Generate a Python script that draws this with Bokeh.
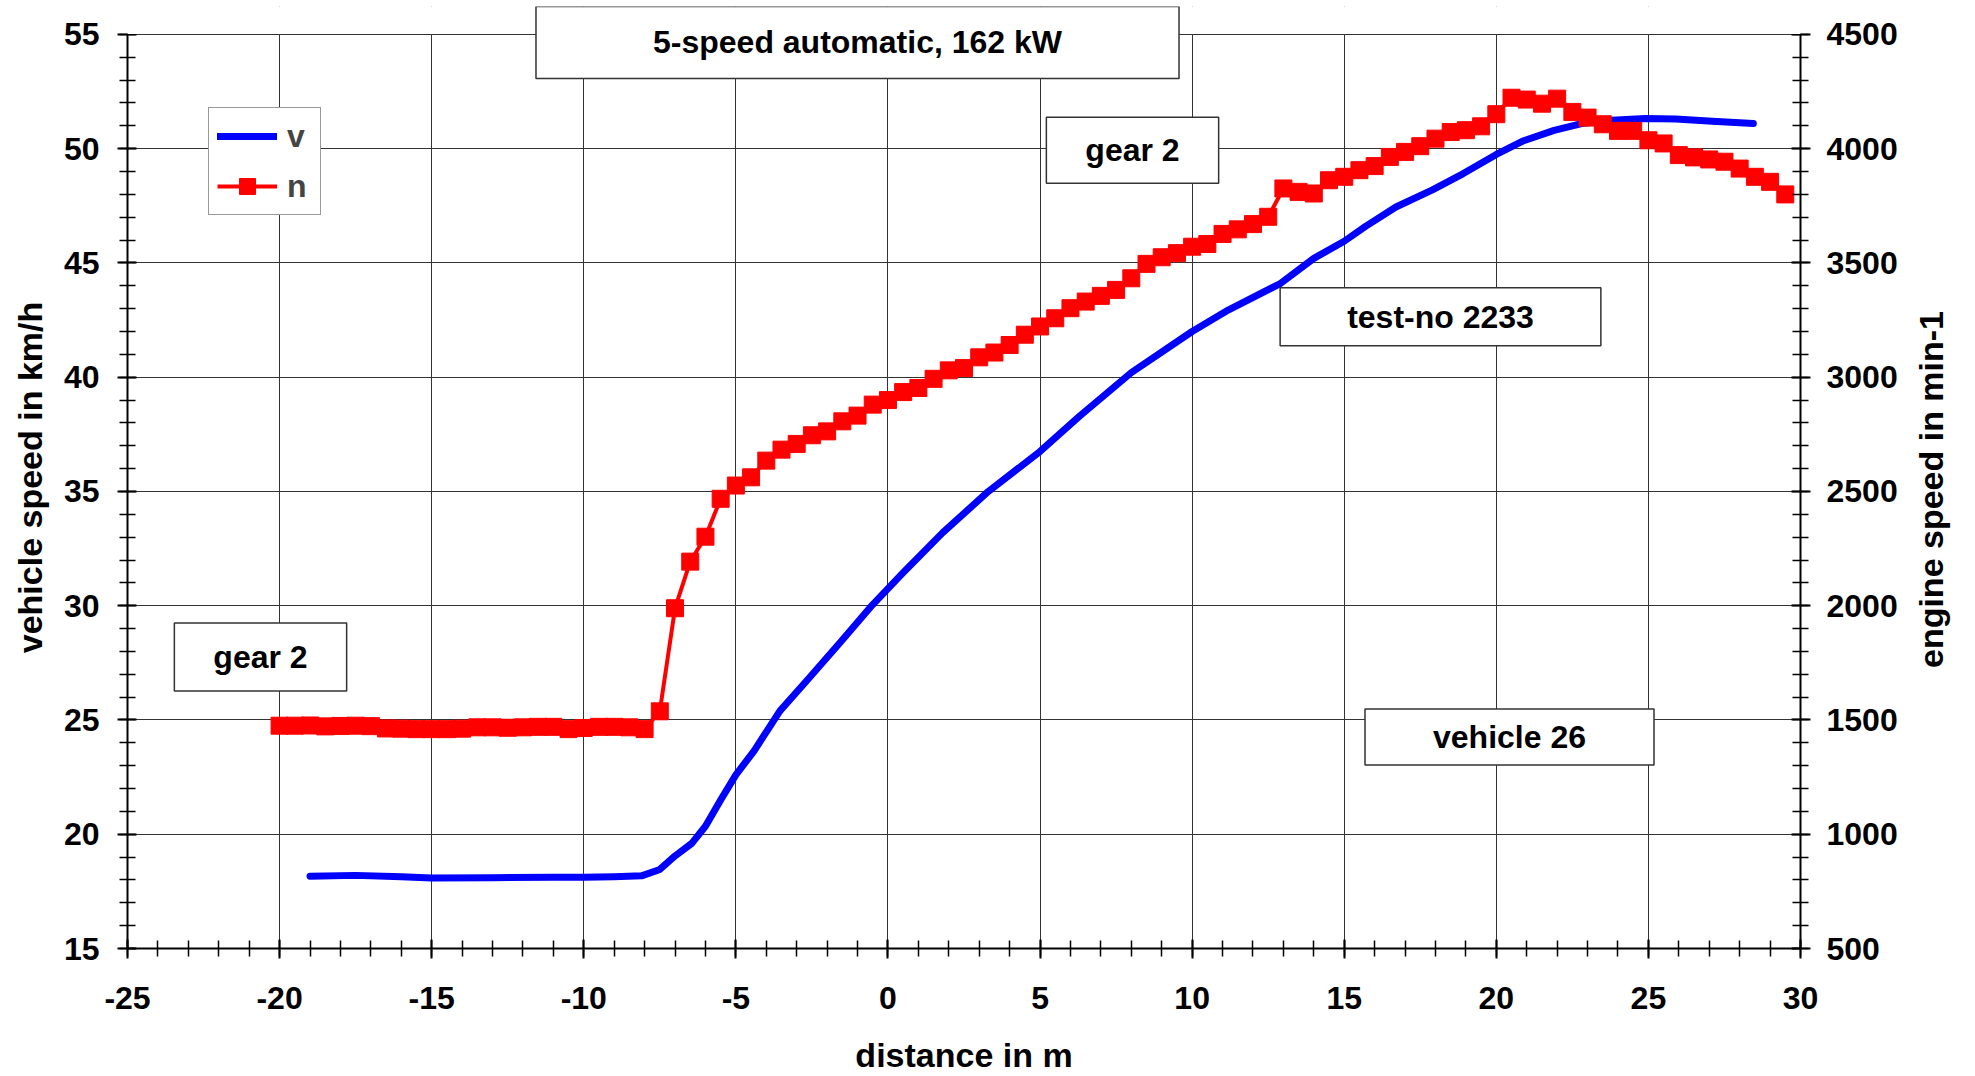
from math import pi
from bokeh.plotting import figure
from bokeh.models import (Range1d, LinearAxis, SingleIntervalTicker, Label, Legend, LegendItem,
                          BoxAnnotation, NumeralTickFormatter)
from bokeh.embed import file_html
from bokeh.resources import INLINE

# ---------------- data ----------------
v_dist = [-19.0, -17.5, -16.0, -15.0, -13.0, -11.0, -10.0, -9.0, -8.1, -7.5, -7.0, -6.45,
          -6.0, -5.5, -5.0, -4.4, -3.55, -2.65, -1.6, -0.5, 0.5, 1.8, 3.3, 5.0, 6.3, 8.0,
          10.0, 11.2, 12.9, 14.0, 15.0, 15.7, 16.7, 17.9, 18.9, 20.0, 20.9, 21.9, 22.8,
          23.8, 24.9, 25.9, 27.1, 28.45]
v_speed = [18.16, 18.20, 18.14, 18.09, 18.10, 18.12, 18.12, 18.14, 18.18, 18.46, 19.05, 19.6,
           20.35, 21.5, 22.6, 23.65, 25.4, 26.75, 28.35, 30.05, 31.45, 33.2, 35.0, 36.75, 38.3, 40.2,
           42.0, 42.95, 44.1, 45.2, 45.95, 46.6, 47.45, 48.2, 48.9, 49.75, 50.35, 50.8, 51.1,
           51.25, 51.32, 51.3, 51.2, 51.1]

n_dist = [-20.0, -19.5, -19.0, -18.5, -18.0, -17.5, -17.0, -16.5, -16.0, -15.5,
          -15.0, -14.5, -14.0, -13.5, -13.0, -12.5, -12.0, -11.5, -11.0, -10.5,
          -10.0, -9.5, -9.0, -8.5, -8.0, -7.5, -7.0, -6.5, -6.0, -5.5,
          -5.0, -4.5, -4.0, -3.5, -3.0, -2.5, -2.0, -1.5, -1.0, -0.5,
          0.0, 0.5, 1.0, 1.5, 2.0, 2.5, 3.0, 3.5, 4.0, 4.5,
          5.0, 5.5, 6.0, 6.5, 7.0, 7.5, 8.0, 8.5, 9.0, 9.5,
          10.0, 10.5, 11.0, 11.5, 12.0, 12.5, 13.0, 13.5, 14.0, 14.5,
          15.0, 15.5, 16.0, 16.5, 17.0, 17.5, 18.0, 18.5, 19.0, 19.5,
          20.0, 20.5, 21.0, 21.5, 22.0, 22.5, 23.0, 23.5, 24.0, 24.5,
          25.0, 25.5, 26.0, 26.5, 27.0, 27.5, 28.0, 28.5, 29.0, 29.5]
n_rpm = [1475, 1475, 1476, 1472, 1474, 1475, 1473, 1463, 1462, 1460,
         1460, 1460, 1462, 1468, 1468, 1466, 1468, 1470, 1470, 1460,
         1465, 1470, 1470, 1468, 1460, 1538, 1989, 2193, 2302, 2468,
         2526, 2562, 2635, 2683, 2708, 2746, 2763, 2807, 2832, 2880,
         2900, 2935, 2953, 2993, 3030, 3040, 3087, 3108, 3141, 3186,
         3222, 3258, 3302, 3331, 3356, 3382, 3433, 3496, 3525, 3543,
         3571, 3583, 3627, 3647, 3670, 3702, 3826, 3811, 3804, 3862,
         3877, 3906, 3924, 3964, 3986, 4011, 4044, 4073, 4081, 4098,
         4151, 4223, 4215, 4197, 4219, 4161, 4136, 4107, 4078, 4078,
         4037, 4023, 3972, 3962, 3953, 3943, 3913, 3877, 3855, 3800]

x_title = "distance in m"
y_title = "vehicle speed in km/h"
y2_title = "engine speed in min-1"
boxes = ["5-speed automatic, 162 kW", "gear 2", "test-no 2233", "vehicle 26", "gear 2"]

# ---------------- layout ----------------
FONT = "Liberation Sans"
W, H = 1973, 1076
FL, FR, FB = 127, 1800, 950        # frame left/right/bottom (canvas px)
PT = 34                            # y pixel of the top of the chart area (55 km/h)
FT = 6                             # frame extended up so the title box is not clipped
XMIN, XMAX, YMIN, YMAX = -25, 30, 15, 55
RMIN, RMAX = 500, 4500
PXU = (FB - PT) / (YMAX - YMIN)    # pixels per km/h
YTOP = YMAX + (PT - FT) / PXU
RTOP = RMIN + (YTOP - YMIN) * (RMAX - RMIN) / (YMAX - YMIN)

def dx(px):
    return XMIN + (px - FL) * (XMAX - XMIN) / (FR - FL)

def dy(py):
    return YMAX - (py - PT) / PXU

p = figure(width=W, height=H, x_range=Range1d(XMIN, XMAX), y_range=Range1d(YMIN, YTOP),
           output_backend="svg", toolbar_location=None,
           min_border_left=FL, min_border_right=W - FR,
           min_border_top=FT, min_border_bottom=H - FB)
p.extra_y_ranges = {"rpm": Range1d(RMIN, RTOP)}
p.outline_line_color = None
p.background_fill_color = "white"
p.border_fill_color = "white"

p.xgrid.grid_line_color = "#333333"
p.ygrid.grid_line_color = "#333333"
p.xgrid.grid_line_width = 1
p.ygrid.grid_line_width = 1

def style_axis(ax, standoff):
    ax.axis_line_color = "black"
    ax.axis_line_width = 2
    ax.major_tick_line_color = "black"
    ax.major_tick_line_width = 2
    ax.minor_tick_line_color = "black"
    ax.minor_tick_line_width = 1.5
    ax.major_tick_in = 9
    ax.major_tick_out = 10
    ax.minor_tick_in = 8
    ax.minor_tick_out = 8
    ax.major_label_text_font = FONT
    ax.major_label_text_font_style = "bold"
    ax.major_label_text_font_size = "32px"
    ax.major_label_text_color = "black"
    ax.major_label_standoff = standoff
    ax.formatter = NumeralTickFormatter(format="0")
    ax.axis_label_text_font = FONT
    ax.axis_label_text_font_style = "bold"
    ax.axis_label_text_font_size = "34px"
    ax.axis_label_text_color = "black"

p.xaxis.ticker = SingleIntervalTicker(interval=5, num_minor_ticks=5)
p.yaxis.ticker = SingleIntervalTicker(interval=5, num_minor_ticks=5)
p.xgrid.ticker = SingleIntervalTicker(interval=5)
p.ygrid.ticker = SingleIntervalTicker(interval=5)
style_axis(p.xaxis[0], 28)
style_axis(p.yaxis[0], 18)
p.xaxis.axis_label = x_title
p.xaxis.axis_label_standoff = 24
p.yaxis.bounds = (YMIN, YMAX)
p.yaxis.axis_label = y_title
p.yaxis.axis_label_standoff = 12

ax2 = LinearAxis(y_range_name="rpm", ticker=SingleIntervalTicker(interval=500, num_minor_ticks=5))
style_axis(ax2, 16)
ax2.bounds = (RMIN, RMAX)
p.add_layout(ax2, "right")

# right-hand title, placed in the right panel (reads bottom to top)
p.add_layout(Label(x=30, y=FB - 491, x_units="screen", y_units="screen",
                   text=y2_title, text_font=FONT, text_font_style="bold", text_font_size="34px",
                   text_color="black", text_align="center", text_baseline="middle",
                   angle=pi / 2), "right")

# white strip above the 55 km/h line (the chart area ends there)
p.add_layout(BoxAnnotation(bottom=YMAX + 0.5 / PXU, fill_color="white", fill_alpha=1.0,
                           line_color=None))

# ---------------- series ----------------
r_v = p.line(v_dist, v_speed, line_color="#0000FF", line_width=7, line_cap="round", line_join="round")
r_nl = p.line(n_dist, n_rpm, y_range_name="rpm", line_color="#FF0000", line_width=4)
r_ns = p.scatter(n_dist, n_rpm, y_range_name="rpm", marker="square", size=17,
                 fill_color="#FF0000", line_color="#FF0000")

LEG_PAD, LEG_GH, LEG_SP = 8, 40, 10
leg_h = 2 * LEG_PAD + 2 * LEG_GH + LEG_SP
legend = Legend(items=[LegendItem(label="v", renderers=[r_v]),
                       LegendItem(label="n", renderers=[r_nl, r_ns])],
                location=(208 - FL, FB - 111 - leg_h),
                padding=LEG_PAD, spacing=LEG_SP, margin=0,
                glyph_width=60, glyph_height=LEG_GH, label_height=LEG_GH, label_width=25,
                label_standoff=10,
                label_text_font=FONT, label_text_font_style="bold", label_text_font_size="32px",
                border_line_color="#333333", border_line_width=1.5,
                background_fill_color="white", background_fill_alpha=1.0)
p.add_layout(legend)

# ---------------- text boxes ----------------
# (text, centre x px, centre y px, horizontal padding, vertical padding)
box_geom = [(boxes[0], 857, 42, 117, 18),
            (boxes[1], 1132, 150, 39, 15),
            (boxes[2], 1440, 317, 67, 11),
            (boxes[3], 1509, 738, 68, 10),
            (boxes[4], 260, 658, 39, 16)]
for txt, cx, cy, ph, pv in box_geom:
    p.add_layout(Label(x=dx(cx), y=dy(cy), text=txt, text_font=FONT, text_font_style="bold",
                       text_font_size="32px", text_color="black",
                       text_align="center", text_baseline="middle",
                       background_fill_color="white", background_fill_alpha=1.0,
                       border_line_color="#333333", border_line_width=1.5,
                       padding=dict(left=ph, right=ph, top=pv, bottom=pv)))

open("out.html", "w").write(file_html(p, INLINE))
